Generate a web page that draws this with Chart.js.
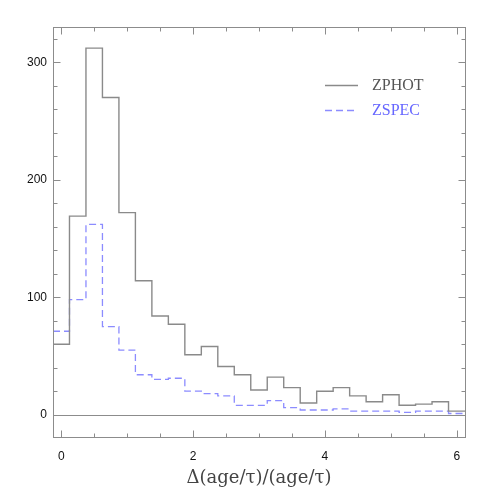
<!DOCTYPE html>
<html>
<head>
<meta charset="utf-8">
<script src="https://cdn.jsdelivr.net/npm/chart.js@4"></script>
<style>
html,body{margin:0;padding:0;background:#fff;}
#wrap{width:491px;height:491px;position:relative;}
</style>
</head>
<body>
<div id="wrap"><canvas id="c" width="491" height="491"></canvas></div>
<script>
// ---- data ----
const binCenters = [0, 0.25, 0.5, 0.75, 1, 1.25, 1.5, 1.75, 2, 2.25, 2.5, 2.75, 3, 3.25, 3.5, 3.75, 4, 4.25, 4.5, 4.75, 5, 5.25, 5.5, 5.75, 6];
const zphot = [60, 169, 312, 270, 172, 114, 84, 77, 51, 58, 41, 34, 21, 32, 23, 10, 20, 23, 16, 11, 17, 8, 9, 11, 3];
const zspec = [71, 98, 162, 75, 55, 34, 30, 31, 20, 18, 16, 8, 8, 12, 6, 4, 4, 5, 3, 3, 3, 2, 3, 3, 1];
const seriesLabels = ['ZPHOT', 'ZSPEC'];
const xTickValues = [0, 2, 4, 6];
const yTickValues = [0, 100, 200, 300];
const xAxisTitle = 'Δ(age/τ)/(age/τ)';

const binWidth = 0.25;
function stepPoints(vals) {
  const pts = binCenters.map((c, i) => ({x: c - binWidth / 2, y: vals[i]}));
  pts.push({x: binCenters[binCenters.length - 1] + binWidth / 2, y: vals[vals.length - 1]});
  return pts;
}

const FRAME = '#8c8c8c';
const C_PHOT = '#8a8a8a';
const C_SPEC = '#8c8cff';

const framePlugin = {
  id: 'frame',
  beforeDatasetsDraw(chart) {
    const {ctx, chartArea: a, scales: {x, y}} = chart;
    ctx.save();
    ctx.strokeStyle = FRAME;
    ctx.lineWidth = 1;
    const y0 = Math.round(y.getPixelForValue(0)) + 0.5;
    ctx.beginPath(); ctx.moveTo(a.left, y0); ctx.lineTo(a.right, y0); ctx.stroke();
    ctx.restore();
  },
  afterDatasetsDraw(chart) {
    const {ctx, chartArea: a, scales: {x, y}} = chart;
    ctx.save();
    ctx.strokeStyle = FRAME;
    ctx.lineWidth = 1;
    const L = Math.round(a.left) + 0.5, R = Math.round(a.right) + 0.5;
    const T = Math.round(a.top) + 0.5, B = Math.round(a.bottom) + 0.5;
    ctx.strokeRect(L, T, R - L, B - T);
    ctx.beginPath();
    for (let k = 0; k <= 12; k++) {
      const v = k * 0.5;
      const px = Math.round(x.getPixelForValue(v)) + 0.5;
      const len = (k % 4 === 0) ? 7 : 4;
      ctx.moveTo(px, B); ctx.lineTo(px, B - len);
      ctx.moveTo(px, T); ctx.lineTo(px, T + len);
    }
    for (let k = 0; k <= 16; k++) {
      const v = k * 20;
      const py = Math.round(y.getPixelForValue(v)) + 0.5;
      const len = (k % 5 === 0) ? 7 : 4;
      ctx.moveTo(L, py); ctx.lineTo(L + len, py);
      ctx.moveTo(R, py); ctx.lineTo(R - len, py);
    }
    ctx.stroke();

    // legend
    const ds = chart.data.datasets;
    const rows = [85, 110];
    ds.forEach((d, i) => {
      ctx.strokeStyle = d.borderColor;
      ctx.lineWidth = d.borderWidth;
      ctx.setLineDash(d.borderDash || []);
      ctx.beginPath(); ctx.moveTo(325, rows[i] + 0.5); ctx.lineTo(358, rows[i] + 0.5); ctx.stroke();
      ctx.setLineDash([]);
      ctx.fillStyle = i === 0 ? '#555555' : '#6666ff';
      ctx.font = '16px "Liberation Serif", "DejaVu Serif", serif';
      ctx.textBaseline = 'middle';
      ctx.textAlign = 'left';
      ctx.fillText(d.label, 372, rows[i] + 1);
    });
    ctx.restore();
  }
};

new Chart(document.getElementById('c'), {
  type: 'line',
  data: {
    datasets: [
      {label: seriesLabels[0], data: stepPoints(zphot), stepped: 'before', borderColor: C_PHOT, borderWidth: 1.4, pointRadius: 0, fill: false},
      {label: seriesLabels[1], data: stepPoints(zspec), stepped: 'before', borderColor: C_SPEC, borderWidth: 1.3, borderDash: [7, 4], pointRadius: 0, fill: false}
    ]
  },
  options: {
    responsive: false,
    animation: false,
    layout: {padding: {top: 27, right: 26, left: 0, bottom: 0}},
    plugins: {legend: {display: false}, tooltip: {enabled: false}},
    scales: {
      x: {
        type: 'linear', min: -0.125, max: 6.125,
        afterBuildTicks(s) { s.ticks = xTickValues.map(v => ({value: v})); },
        afterFit(s) { s.height = 54; },
        grid: {display: false, drawTicks: false}, border: {display: false},
        ticks: {padding: 12, color: '#111', font: {family: '"Liberation Sans", Arial, sans-serif', size: 12}, maxRotation: 0},
        title: {display: true, text: xAxisTitle, color: '#444', font: {family: '"DejaVu Serif", "Liberation Serif", serif', size: 18}, padding: {top: 0, bottom: 2}}
      },
      y: {
        type: 'linear', min: -19, max: 330,
        afterBuildTicks(s) { s.ticks = yTickValues.map(v => ({value: v})); },
        afterFit(s) { s.width = 53; },
        grid: {display: false, drawTicks: false}, border: {display: false},
        ticks: {padding: 6, color: '#111', font: {family: '"Liberation Sans", Arial, sans-serif', size: 12}}
      }
    }
  },
  plugins: [framePlugin]
});
</script>
</body>
</html>
